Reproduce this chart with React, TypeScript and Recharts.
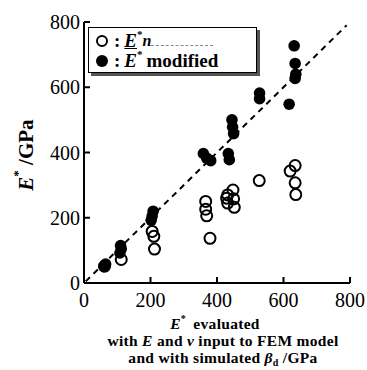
import React from 'react'
import { Legend, ReferenceLine, Scatter, ScatterChart, XAxis, YAxis } from 'recharts'

// E* from nanoindentation (open circles)
const nanoX = [62, 112, 205, 210, 212, 366, 366, 369, 379, 432, 429, 432, 448, 450, 452, 527, 620, 635, 635, 637]
const nanoY = [52, 72, 158, 143, 104, 250, 226, 206, 137, 270, 260, 245, 285, 258, 232, 314, 343, 360, 307, 271]

// E* modified (filled circles)
const modX = [60, 65, 110, 112, 108, 208, 205, 202, 359, 369, 381, 434, 437, 445, 447, 450, 528, 528, 617, 632, 635, 637, 635]
const modY = [50, 58, 115, 105, 92, 220, 205, 192, 397, 383, 375, 397, 378, 500, 478, 458, 582, 565, 548, 727, 673, 640, 627]

const ticks = [0, 200, 400, 600, 800]
const identity = [{ x: 5, y: 5 }, { x: 790, y: 790 }]

const nano = nanoX.map((x, i) => ({ x, y: nanoY[i] }))
const modified = modX.map((x, i) => ({ x, y: modY[i] }))

const FONT = 'Liberation Serif, serif'
const tickStyle = { fontSize: 20, fill: '#000', fontFamily: FONT }

const OpenDot = (p: any) => <circle cx={p.cx} cy={p.cy} r={5.5} fill="none" stroke="#000" strokeWidth={2} />
const FilledDot = (p: any) => <circle cx={p.cx} cy={p.cy} r={5.8} fill="#000" />

function XLabel() {
  return (
    <g fontFamily={FONT} fontWeight="bold" fontSize={15.5} fill="#000" textAnchor="middle" letterSpacing={0.3}>
      <text x={215} y={329}>
        <tspan fontStyle="italic">E</tspan>
        <tspan dy={-7} fontSize={10}>*</tspan>
        <tspan dy={7} dx={3}> evaluated</tspan>
      </text>
      <text x={223} y={346}>
        with <tspan fontStyle="italic">E</tspan> and <tspan fontStyle="italic">ν</tspan> input to FEM model
      </text>
      <text x={223} y={363}>
        and with simulated <tspan fontStyle="italic">β</tspan>
        <tspan dy={3} fontSize={10}>d</tspan>
        <tspan dy={-3}> /GPa</tspan>
      </text>
    </g>
  )
}

function YLabel() {
  return (
    <text x={26} y={155} transform="rotate(-90, 26, 155)" textAnchor="middle" dominantBaseline="central"
      fontFamily={FONT} fontWeight="bold" fontSize={21} fill="#000">
      <tspan fontStyle="italic">E</tspan>
      <tspan dy={-9} fontSize={13}>*</tspan>
      <tspan dy={9}> /GPa</tspan>
    </text>
  )
}

function LegendBox() {
  const row = { display: 'flex', alignItems: 'center', height: 20 }
  return (
    <div style={{ width: 169, height: 46, boxSizing: 'border-box', border: '1.5px solid #000', background: '#fff',
      boxShadow: '3px 3px 0 #555', padding: '3px 0 0 6px', fontFamily: FONT, fontWeight: 'bold', fontSize: 19, color: '#000' }}>
      <div style={row}>
        <svg width={14} height={14}><circle cx={7} cy={7} r={5} fill="none" stroke="#000" strokeWidth={2} /></svg>
        <span style={{ marginLeft: 5 }}>:</span>
        <span style={{ marginLeft: 4, fontStyle: 'italic', textDecoration: 'underline' }}>E</span>
        <span style={{ fontSize: 11, position: 'relative', top: -7 }}>*</span>
        <span style={{ fontStyle: 'italic', fontSize: 16 }}>n</span>
        <span style={{ width: 62, borderBottom: '1px dashed #888', alignSelf: 'flex-end', marginBottom: 5 }} />
      </div>
      <div style={row}>
        <svg width={14} height={14}><circle cx={7} cy={7} r={6} fill="#000" /></svg>
        <span style={{ marginLeft: 5 }}>:</span>
        <span style={{ marginLeft: 4, fontStyle: 'italic' }}>E</span>
        <span style={{ fontSize: 11, position: 'relative', top: -7 }}>*</span>
        <span style={{ marginLeft: 4 }}>modified</span>
      </div>
    </div>
  )
}

export default function App() {
  return (
    <div style={{ position: 'absolute', left: 0, top: 0, fontFamily: FONT }}>
      <ScatterChart width={367} height={370} margin={{ top: 22, right: 17, bottom: 0, left: 0 }} style={{ fontFamily: FONT }}>
        <XAxis type="number" dataKey="x" domain={[0, 800]} ticks={ticks} height={87}
          axisLine={{ stroke: '#000', strokeWidth: 2 }} tickLine={{ stroke: '#000', strokeWidth: 2 }}
          tickSize={-6} tickMargin={16} tick={tickStyle} label={<XLabel />} />
        <XAxis xAxisId="top" orientation="top" type="number" domain={[0, 800]} ticks={ticks} height={0}
          axisLine={{ stroke: '#000', strokeWidth: 2 }} tickLine={{ stroke: '#000', strokeWidth: 2 }}
          tickSize={-6} tick={false} />
        <YAxis type="number" dataKey="y" domain={[0, 800]} ticks={ticks} width={84}
          axisLine={{ stroke: '#000', strokeWidth: 2 }} tickLine={{ stroke: '#000', strokeWidth: 2 }}
          tickSize={-6} tickMargin={10} tick={tickStyle} label={<YLabel />} />
        <YAxis yAxisId="right" orientation="right" type="number" domain={[0, 800]} ticks={ticks} width={0}
          axisLine={{ stroke: '#000', strokeWidth: 2 }} tickLine={{ stroke: '#000', strokeWidth: 2 }}
          tickSize={-6} tick={false} />
        <ReferenceLine segment={identity} stroke="#000" strokeWidth={2} strokeDasharray="6 5" />
        <Scatter data={nano} shape={OpenDot} isAnimationActive={false} />
        <Scatter data={modified} shape={FilledDot} isAnimationActive={false} />
        <Legend layout="vertical" align="center" verticalAlign="middle" content={<LegendBox />}
          wrapperStyle={{ left: 88, top: 27, width: 169 }} />
      </ScatterChart>
    </div>
  )
}
